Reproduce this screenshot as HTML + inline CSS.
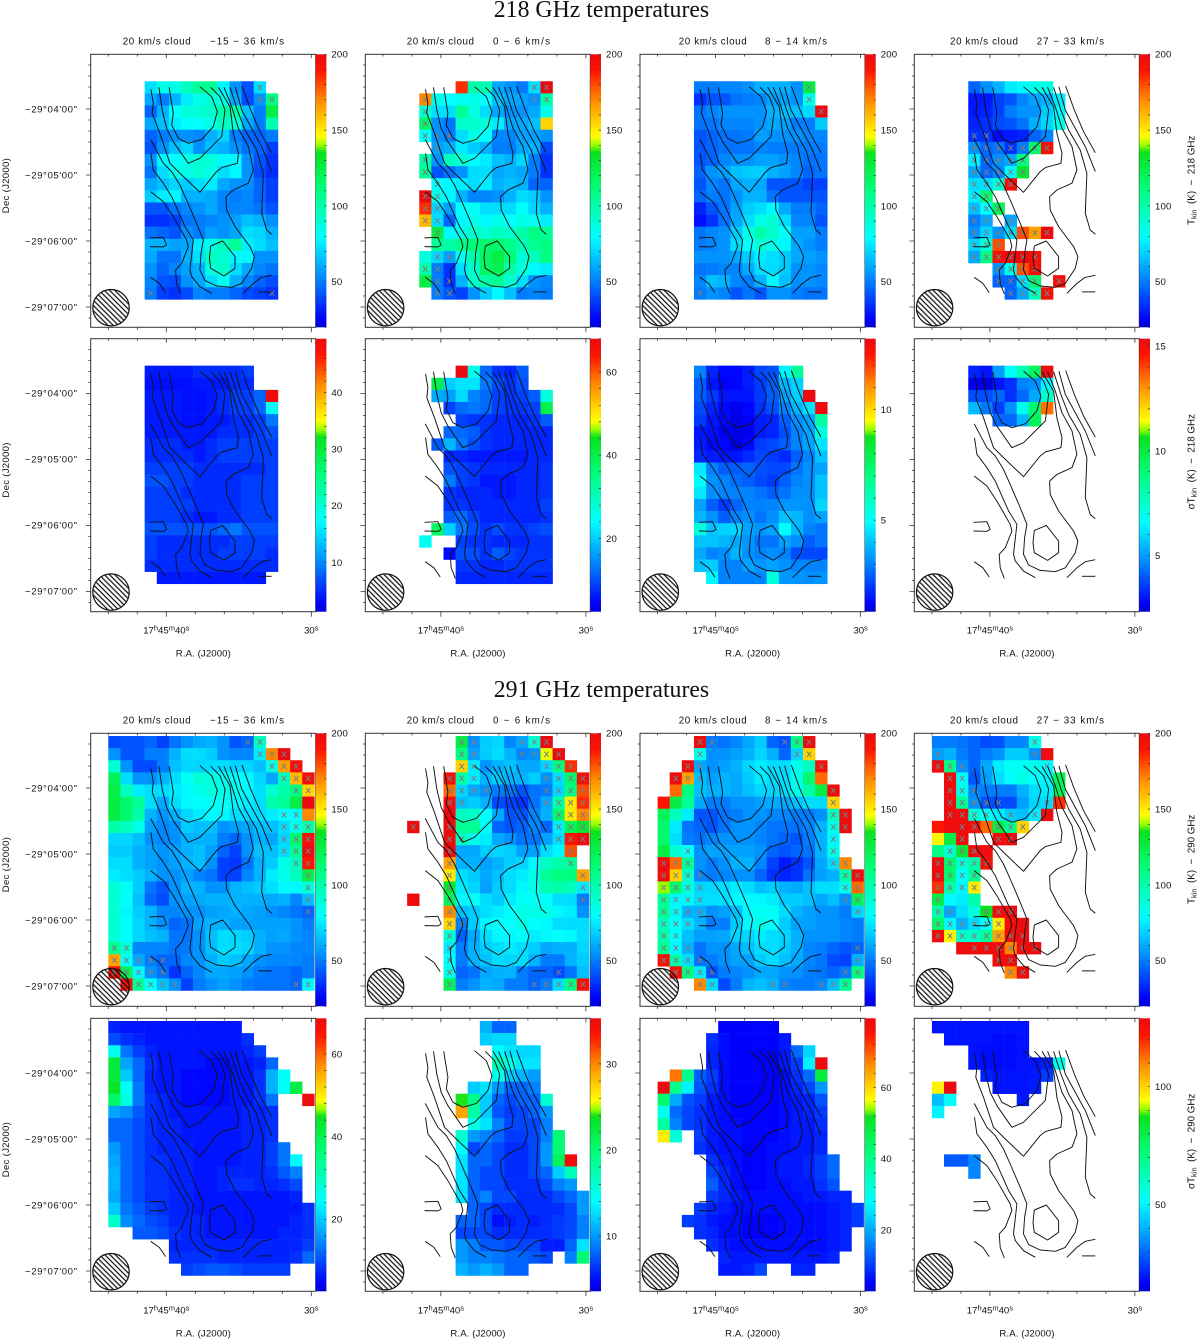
<!DOCTYPE html>
<html><head><meta charset="utf-8"><title>20 km/s cloud kinetic temperature maps</title>
<style>
html,body{margin:0;padding:0;background:#fff}
svg{display:block}
text{font-family:"Liberation Sans",sans-serif;fill:#111}
</style></head>
<body>
<svg id="figure" xmlns="http://www.w3.org/2000/svg" width="1200" height="1339" viewBox="0 0 1200 1339">
<defs>
<linearGradient id="rainbow" x1="0" y1="1" x2="0" y2="0"></linearGradient>
<pattern id="hatch" patternUnits="userSpaceOnUse" width="3.7" height="3.7" patternTransform="rotate(45)"><line x1="0" y1="1.85" x2="3.7" y2="1.85" stroke="#111" stroke-width="1.25"/></pattern>
</defs>
<text x="601.5" y="17" text-anchor="middle" style="font-family:'Liberation Serif',serif;font-size:23.8px">218 GHz temperatures</text>
<text x="601.5" y="697" text-anchor="middle" style="font-family:'Liberation Serif',serif;font-size:23.8px">291 GHz temperatures</text>
</svg>
<script>
const tA=[[72,85,85,95,105,105,78,55,42,72],[60,50,62,75,85,90,85,60,40,55,110],[45,62,80,88,90,92,100,100,65,50,125],[60,65,75,80,80,85,95,90,60,50,98],[45,50,55,55,52,62,70,50,45,45,50],[42,55,65,70,55,65,62,55,48,45,38],[55,78,80,85,90,88,78,78,55,42,35],[48,72,85,85,90,85,72,78,55,40,34],[60,65,70,68,72,75,60,55,55,45,38],[68,75,78,62,62,60,52,50,52,45,38],[42,42,48,52,55,60,52,52,52,48,42],[35,35,38,48,50,52,55,58,65,62,55],[48,45,42,55,50,58,55,60,72,70,62],[62,62,58,60,75,85,95,105,75,72,65],[60,48,48,62,72,95,90,78,78,55,55],[55,45,52,58,62,88,92,72,60,52,48],[52,42,40,55,60,72,82,62,52,45,40],[50,38,35,40,52,50,50,45,40,38,35]];
const fA={0:[9],1:[9,10],17:[0,10]};
const tB=[[,,,185,100,98,60,55,50,72,200],[170,85,80,82,85,80,65,60,58,55,100],[90,72,72,105,88,72,60,55,55,60,85],[115,55,48,92,92,88,75,60,60,65,155],[80,55,50,72,85,80,52,52,58,58,55],[,58,62,75,68,62,50,50,60,62,40],[100,55,95,90,80,75,65,62,70,50,35],[105,42,48,55,72,72,60,62,60,50,35],[,80,78,75,72,75,62,65,62,45,45],[200,85,78,62,52,52,55,62,72,68,55],[185,70,58,80,82,72,72,72,80,70,62],[160,72,45,78,85,78,85,80,85,82,75],[,125,78,85,92,90,95,92,100,110,105],[,105,100,108,112,115,115,108,98,105,110],[88,70,58,82,100,118,125,112,90,95,110],[100,50,35,72,92,118,122,100,88,78,75],[125,50,35,62,92,100,105,92,72,55,52],[,50,42,38,55,68,78,65,50,52,50]];
const fB={0:[9,10],1:[0,9,10],2:[0],3:[0],4:[0,1,2],5:[1],6:[0],7:[0],8:[1],9:[0,1],10:[0,1],11:[0,1],12:[1],14:[1,2],15:[0,1],16:[1,2],17:[1,2]};
const tC=[[50,50,52,52,55,62,62,62,55,125],[35,42,42,48,50,52,58,58,55,85],[48,52,55,55,55,55,62,65,65,72,200],[48,48,52,52,52,55,60,58,50,50,68],[42,45,48,48,50,58,55,55,55,52,52],[42,45,48,48,48,52,50,50,50,50,50],[42,45,52,55,55,58,58,55,52,48,48],[45,55,58,65,68,68,62,58,52,45,48],[42,52,48,60,62,60,42,42,42,38,38],[45,50,48,55,62,62,48,42,42,42,42],[32,42,48,58,68,72,78,60,50,50,45],[28,35,48,60,72,85,90,72,52,52,42],[48,52,55,68,85,100,92,80,58,58,50],[50,52,55,72,80,90,85,78,60,55,50],[55,55,55,60,68,75,72,68,60,58,55],[48,50,52,52,60,72,72,68,55,55,52],[52,65,62,52,50,62,78,65,55,55,52],[50,55,52,42,48,42,55,55,50,48,48]];
const fC={0:[9],1:[9],2:[10],17:[0]};
const tD=[[45,55,62,75,78,85,85],[30,30,38,42,52,58,62,75],[30,32,38,50,55,55,68,78],[32,35,40,42,48,62,70,85],[35,35,28,30,32,45,52],[55,45,48,35,50,115,195],[75,45,55,60,110],[60,45,52,78,130],[72,72,90,195],[75,115],[65,80,120],[50,60,,60],[55,70,55,72,180,165,200],[70,90,180],[60,110,195,200,200,195],[,,55,85,180,195],[,,45,45,72,115,,195],[,,,45,60,95,195]];
const fD={4:[0,1],5:[0,1,2,3,4,5,6],6:[0,1,2,3,4],7:[0,1,2,3,4],8:[0,1,2,3],9:[0,1],10:[0,1,2],11:[0,1,3],12:[0,1,2,3,4,5,6],13:[0,1,2],14:[0,1,2,3,4,5],15:[2,3,4,5],16:[2,3,4,5,7],17:[3,4,5,6]};
const sE=[[4,4,4,4,5,5,5,5,6],[3.5,3.5,3.5,3.5,4,4,4,5,5],[4,4,4,3.5,3.5,4,5,6,6,8,49],[4,4,4,3.5,3.5,4,5,6,6,8,18],[4,4,4,3.5,3.5,4,4,5,5,6,9],[4,4,4,4,4,4,5,5,5,6,7],[5,5,5,4,4,5,6,6,6,6,6],[5,5,5,5,4,5,6,6,6,6,6],[6,6,6,6,5,5,5,5,5,5,6],[7,7,6,6,5,5,5,5,6,6,6],[6,6,6,5,5,5,5,5,6,6,6],[6,6,6,6,5,5,5,5,6,6,6],[6,6,6,5,4,4,5,5,6,6,6],[7,7,7,7,7,7,8,9,7,7,7],[6,5,5,5,5,5,5,6,6,6,6],[6,5,5,5,5,5,6,6,6,6,5],[5,5,5,5,5,5,5,5,5,5,5],[,4,4,4,4,4,4,4,4,4]];
const sF=[[,,,68,26,12,8,7,11],[,40,20,22,22,13,10,8,10],[,17,16,21,14,12,9,8,9,11,27],[,,9,12,13,12,9,8,8,9,40],[,,,9,8,8,7,7,7,8,11],[,,12,12,11,8,7,7,7,7,7],[,11,18,13,10,8,7,7,7,7,7],[,,7,7,6,6,6,6,6,7,7],[,,10,9,8,7,7,7,7,7,8],[,,13,9,8,6,6,6,7,7,8],[,,8,7,7,7,6,6,7,7,8],[,,8,8,7,7,7,7,7,7,9],[,,11,12,9,7,7,7,7,7,8],[,38,20,13,10,8,10,8,8,9,10],[25,,,9,8,8,7,7,7,8,8],[,,5,10,10,8,11,9,8,8,8],[,,,8,8,7,7,8,8,8,8],[,,,7,7,7,7,7,7,7,7]];
const sG=[[3,1.7,1.3,1.3,1.6,2.2,2.3,4.8,6.6],[2.5,1.5,1.2,1.3,1.6,2,2.5,3.8,4.2],[2.5,2,1.5,1.5,1.5,2,2.5,3.5,4.2,13.2],[2.2,1.7,1.3,1.1,1.3,1.9,2.3,3,3.8,4.5,13.2],[2,1.5,1.3,1,1.2,1.6,1.7,2.5,3.2,3.5,6.5],[1.5,1.4,1.1,1,1.1,1.6,1.7,2.3,3,3.5,5.5],[1.6,1.3,1.3,1,1.3,2,2.2,2.5,3,3.5,4.5],[1.8,1.6,1.5,1.5,1.8,2.2,2,1.8,2.5,3,4],[4.6,3,2.5,2.5,2.6,2.3,2.2,2.2,2.8,3.2,3.5],[5,3.2,3,2.7,2.5,2.2,2,2.5,3,3.2,4],[4.6,3.2,3,3,3,2.8,2.5,2.8,3.2,3.2,4],[3.5,2.5,2,2.6,3,3,3,3.3,3.3,3.2,4.3],[3.8,3.2,2.5,3,3.2,2.8,3.2,4,3.8,3.2,3.5],[5.5,4,4.2,4.3,3.5,3.3,3.5,5,3.8,3,2.8],[4,4,3.8,3.6,3.3,2.8,2.8,3.5,3.2,2.5,2.8],[3.6,3,3.2,3.8,3.2,3,3.2,3,2.3,2.2,2.2],[4,4.2,3,3,3.5,3.3,3.5,3.2,3,3,3],[,4.8,3,3,3,3,5.5,3.3,3.3,3.2,3.3]];
const sH=[[3.2,3,5,6.8,8,9.5,15.3],[2.6,2.4,3,3.4,4.6,4.8,6.5],[3.8,3.8,4.2,3.4,4.2,5.2,7.5],[5.5,4.5,3.6,4.8,7,9.2,13.5],[,,4.2,4.2,5.5,9.5]];
const tI=[[40,42,42,45,38,48,55,60,62,55,42,45,95],[55,42,42,50,50,62,72,72,68,55,52,52,75,170,200],[90,55,40,40,50,65,70,70,72,72,70,70,65,85,165,195],[120,72,55,55,62,72,82,90,88,82,80,78,70,60,95,160,195],[125,95,75,72,72,75,78,85,88,85,82,78,72,90,100,110,155],[125,115,105,72,60,72,78,80,82,82,78,75,72,100,105,125,200],[125,115,100,62,55,62,70,75,78,78,72,72,72,75,80,80,170],[100,95,85,58,52,55,68,65,65,55,58,60,65,65,72,85,100],[70,70,65,55,52,55,62,62,62,50,45,55,62,60,70,115,195],[68,68,62,58,55,58,62,65,58,45,38,55,65,65,72,105,200],[72,72,62,58,55,58,62,65,55,38,36,48,62,68,85,95,190],[75,72,68,62,55,55,58,52,48,38,38,52,62,75,85,95,125],[90,82,68,48,42,55,62,62,55,55,62,65,68,72,78,78,88],[90,80,65,45,40,55,58,60,62,62,62,62,62,60,62,52,65],[90,78,68,62,52,52,55,55,58,60,62,60,58,55,52,48,45],[90,80,70,62,55,45,48,58,62,62,58,58,58,58,58,55,50],[90,80,70,65,62,48,48,55,65,72,70,68,62,58,60,55,52],[105,88,52,52,52,48,50,55,65,72,72,70,62,55,55,52,52],[165,80,60,50,45,45,52,55,62,68,65,60,55,52,52,52,50],[195,120,78,55,48,35,45,52,60,60,58,55,50,48,48,45,50],[,195,105,80,65,55,38,50,55,58,55,50,48,48,48,45,78]];
const fI={0:[11,12],1:[12,13,14],2:[13,14,15],3:[14,15,16],4:[15,16],6:[14,15],7:[14,15,16],8:[14,15,16],9:[14,15,16],10:[15,16],11:[16],12:[16],13:[16],14:[16],17:[0,1],18:[0,1,2,3,4],19:[0,1,2,3,4],20:[2,3,4,5,15,16]};
const tJ=[[,,,,,,125,55,68,70,52,60,90,200],[,,,,,,110,58,68,72,62,52,55,145,200],[,,,,,,155,75,55,62,65,60,60,70,110,185],[,,,,,195,100,75,62,68,62,62,68,55,72,115,195],[,,,,,175,70,60,55,50,48,42,48,50,70,110,180],[,,,,,195,65,68,62,40,38,35,48,60,100,150,185],[,,,,,200,95,92,80,60,42,42,52,62,115,150,170],[,,198,,,200,105,105,82,45,42,45,52,45,75,120,130],[,,,,,198,95,85,75,60,55,48,48,58,72,190,198],[,,,,,198,60,60,68,70,68,58,58,72,78,180],[,,,,,165,62,62,58,62,68,70,78,95,100,105],[,,,,,150,72,68,60,65,72,75,85,105,110,110,165],[,,,,,130,75,70,58,68,72,78,85,98,100,95,75],[,,198,,,120,78,80,72,68,75,82,82,80,72,72,50],[,,,,,170,65,68,72,75,80,85,85,85,78,75,55],[,,,,,155,50,68,78,80,80,85,80,78,72,72,72],[,,,,,90,45,60,72,78,78,80,75,78,80,78,72],[,,,,,75,50,62,68,72,75,72,68,60,62,62,70],[,,,,,80,50,62,65,72,70,72,62,50,50,62,68],[,,,,,85,45,48,60,62,62,50,45,45,40,48,65],[,,,,,120,50,55,62,60,50,50,45,50,72,110,195]];
const fJ={0:[6,7,11,12,13],1:[6,7,11,12,13,14],2:[6,7,13,14,15],3:[5,6,7,13,14,15,16],4:[5,6,7,8,13,14,15,16],5:[5,6,13,14,15,16],6:[14,15,16],7:[2,5,14,15,16],8:[5,6,14,15,16],9:[5,15],10:[5,15],11:[5,16],12:[5,16],13:[5,16],14:[5],15:[5,6],16:[5],17:[5],18:[5],19:[5,14],20:[5,12,13,14,15,16]};
const tK=[[,,,198,50,48,52,60,68,45,42,110,198],[,,,85,55,55,58,62,70,62,45,70,155],[,,198,60,55,58,62,70,75,72,72,85,95,195],[,198,165,65,58,62,60,68,75,72,72,85,115,175],[,175,110,65,62,62,60,65,70,70,72,85,100,125,198],[190,125,105,60,50,50,55,55,58,60,60,65,72,72,155],[120,95,75,42,42,48,50,55,55,52,52,50,50,55,95,198],[115,75,48,45,42,48,55,55,52,48,48,48,52,62,85,198],[115,72,50,48,52,55,55,55,52,48,45,42,50,62,78],[125,90,80,55,58,58,58,58,55,45,42,45,48,62,85],[198,175,105,55,50,55,62,62,52,38,30,35,42,60,72,170],[198,155,90,52,50,52,55,55,45,35,32,35,48,58,62,100,198],[140,115,88,70,70,72,75,72,65,68,62,60,65,72,72,85,175],[105,78,78,72,72,72,78,78,78,75,68,68,65,60,65,55,120],[105,78,62,62,55,58,65,78,82,82,72,62,58,55,55,50,70],[95,80,72,62,50,50,68,78,85,80,68,58,58,55,55,52,50],[100,80,65,58,58,60,70,70,75,72,70,62,55,55,55,52,50],[105,78,62,48,55,55,60,65,72,72,68,62,52,50,45,42,45],[195,100,72,48,50,55,58,58,68,72,65,60,52,48,40,38,62],[,195,110,75,42,50,52,55,60,60,55,55,50,48,45,50,110],[,,,170,72,40,50,62,65,62,52,50,50,52,65,105]];
const fK={0:[3,4,10,11,12],1:[3,11,12],2:[2,3,13],3:[1,2,3],4:[14],5:[14],6:[14,15],7:[14,15],8:[14],9:[2,14],10:[0,1,2,14,15],11:[0,1,2,3,15,16],12:[0,1,2,3,15,16],13:[0,1,2,3,15,16],14:[0,1,2,3,16],15:[0,1,2],16:[0,1],17:[0,1,2,16],18:[0,1,2,3,16],19:[1,2,3,4,15,16],20:[3,4,9,10,13,14,15]};
const tL=[[50,50,48,45,40,42,52,52,85],[58,62,50,45,50,55,68,68,55,198],[198,110,55,45,60,75,82,82,85,78],[,198,80,42,58,72,80,85,80,78,120],[,198,85,52,50,50,50,62,72,75,120],[,198,105,55,42,40,40,58,70,72,185],[,198,198,90,80,75,68,65,75,198],[190,198,198,195,175,125,105,155],[148,125,198,,,198,198],[108,90,130,198,198],[198,115,90,100,195],[198,115,80,105],[185,100,78,150],[125,78,75,100],[100,60,72,88,135,198,198],[115,78,62,72,80,150,195,198],[198,148,92,92,105,165,198,198],[,,198,198,198,198,170,198,198],[,,,,,198,198],[,,,,,,170,198]];
const fL={0:[8],1:[0,8],2:[0,1,2,9],3:[1,2],4:[1,2,3],5:[1,2,3,4,5,9],6:[1,2,3,4,6,8],7:[2,3,5,6,7],8:[2,5,6],9:[1,2,3],10:[0,1,2,3,4],11:[0,1,2,3],12:[0,1,2,3],13:[0],14:[0,1,4,5,6],15:[0,1,2,3,4,5],16:[0,1,2,3,4,5,6,7],17:[3,4,5,6,7,8],18:[5,6],19:[6,7]};
const sM=[[7,6,6,6,6,6,6,6,6,6,6],[10,8,7,6,6,6,6,6,6,6,6,8],[26,13,9,7,6,6,6,6,6,6,6,7,9],[42,17,12,8,6,6,6,6,5,5,6,6,7,12],[42,20,12,7,6,6,5,5,5,5,6,6,8,18,25],[44,25,13,7,6,6,5,5,5,5,6,6,8,18,25,41],[38,27,13,8,7,6,5,5,5,5,6,6,8,13,,,68],[17,15,11,8,7,6,6,6,6,6,6,7,7,8],[12,12,10,8,7,7,6,6,6,6,6,7,7,8],[12,12,10,8,7,7,6,6,6,6,6,7,7,8],[16,12,10,8,7,7,7,6,6,6,6,7,7,9,13],[17,12,10,8,8,7,7,6,6,6,6,7,7,9,13,24],[18,12,10,8,8,7,7,6,6,7,7,7,7,8,11,14],[18,12,10,8,8,7,7,6,6,7,8,8,7,7,8,10],[17,12,10,8,8,7,7,6,6,6,6,6,6,6,6,7],[20,13,11,9,8,7,7,6,6,6,6,6,6,6,6,6,8],[29,15,12,10,9,7,7,7,6,6,6,6,6,6,6,7,8],[,,11,11,10,8,7,7,6,6,6,6,6,6,7,7,8],[,,,,,7,7,7,7,7,7,7,7,7,7,7,9],[,,,,,8,8,8,8,7,7,7,7,7,7,8,12],[,,,,,,9,10,11,11,10,9,9,9,9]];
const sN=[[,,,,,,,,11,8,8],[,,,,,,,,12,12.5,12.5],[,,,,,,,,,14,13,12.5,12.5],[,,,,,,,,,17,15,13,13],[,,,,,,,,,15,12,11,10],[,,,,,,,12,13,10,8,8,9],[,,,,,,24,19,12,8,7,8,8,16],[,,,,,,29,18,12,7.5,6.5,7,8,10],[,,,,,,,15,13,9,7,7,7,9],[,,,,,,16,10,9,8,6.5,6.5,7,9,20],[,,,,,,14,7,8,7,6,6,7,10,20],[,,,,,,13,8,8,7,6,6,7,10,21,35],[,,,,,,13,8,7,7,6,6,7,8,12,17],[,,,,,,13,8,7,7,6,6,6,7,9,10],[,,,,,,13,8,9,7,7,6,6,6,7,8,10],[,,,,,,,8,7,6,6,6,6,6,6,7,10],[,,,,,,8,8,7,5,5.5,6,5.5,6,6.5,7,9],[,,,,,,7,7,7,6,6,6,6,6,6.5,7,9],[,,,,,,10,9,7.5,7.5,7,7,7,5.5,5.5,8,13],[,,,,,,10,9,9,8.5,8,8,7.5,7,,9,20],[,,,,,,11,10,11,10,8,8]];
const sO=[[,,,,,5,5,5,5,5],[,,,,9,6,5,5,5,5,7],[,,,,8,6,5,5,5,5,7,14,24],[,,,,8,6,5,5,5,5,7,10,27,79],[,68,40,13,10,6,5,5,5,5,6,9,14,48],[79,40,27,12,9,6,5,5,5,5,6,8,11,18],[43,20,12,10,7,6,5,5,5,5,6,7,8,12],[30,14,11,9,7,6,5,5,5,5,6,7,8,10],[38,16,11,9,7,6,6,5,5,5,6,7,7,9],[58,32,,10,7,6,6,5,5,5,6,7,7,8],[,,,9,7,6,6,5,5,6,6,7,7,8],[,,,,9,7,6,5,5,6,7,7,8,10,14],[,,,,11,8,6,5,5,6,7,7,8,10,14],[,,,,13,8,6,5,5,6,6,7,7,9,12],[,,,,10,8,7,6,6,6,6,6,7,7,8,8],[,,,10,8,7,6,6,6,6,6,6,6,6,7,8,10],[,,10,9,7,6,6,5,5,5,6,6,6,6,7,8,10],[,,,9,8,6,6,5,5,5,6,6,6,6,7,8],[,,,,9,7,6,6,6,6,6,6,6,6,7,8],[,,,,,8,7,7,7,7,7,7,7,7,8],[,,,,,7,7,8,11,,,8,8]];
const sP=[[19,19,19,19,19,19,19,19],[,19,19,19,19,18,18,19],[,,,19,18,18,18,19],[,,,19,18,18,18,19,19,21,55],[,,,,21,19,19,19,20,24],[96,129,,,,19,19,19,20],[42,52,,,,,,20],[50],[],[],[],[,28,28,34],[,,,34]];

const tempTicks=[200,150,100,50];
const tickE=[40,30,20,10];
const tickF=[60,40,20];
const tickG=[10,5];
const tickH=[15,10,5];
const tickM=[60,40,20];
const tickN=[30,20,10];
const tickO=[60,40,20];
const tickP=[100,50];
const rangesRA=["−15 − 36 km/s","0 − 6 km/s","8 − 14 km/s","27 − 33 km/s"];
const decTickValues=[240,300,360,420];
const decTickLabels=["−29°04'00\"","−29°05'00\"","−29°06'00\"","−29°07'00\""];

const contourLines=[
[[34.78,219.1],[34.18,240.9],[33.54,260.6],[32.73,279.7]],
[[35.24,219.7],[34.80,240.9],[34.11,257.6],[33.42,274.2],[32.73,296.9]],
[[35.61,220.3],[35.10,240.9],[34.57,259.1],[33.77,277.3],[33.31,298.5],[33.42,334.8],[33.08,350],[32.73,353.9]],
[[36.02,220.3],[35.49,237.9],[35.03,257.6],[34.34,274.2],[34.00,295.4],[34.34,307.5],[35.38,313.6],[35.88,319.7],[35.84,331.8],[35.26,346.9],[34.23,365.1],[33.93,374.2],[34.11,384.8],[34.80,398.5],[35.49,402.1],[36.53,400.9],[37.33,396],[37.68,386.3],[37.61,371.2],[37.45,359],[37.91,343.9],[38.60,322.7],[39.06,309.1],[39.63,296.9],[40.21,289.4],[41.08,267.6]],
[[36.41,220.3],[35.61,237.9],[35.38,262.1],[35.03,280.3],[35.10,289.4],[36.18,293.3],[36.53,296.9],[37.68,315.7],[38.94,300],[39.75,289.4],[40.44,262.1],[40.97,243.9],[40.90,234.8],[41.06,222.1]],
[[36.94,220.3],[36.30,228.8],[35.95,240.9],[36.18,265.1],[37.68,284.8],[38.48,289.4],[39.52,269.7],[39.98,257.6],[40.28,240.9],[40.51,220.3]],
[[37.68,219.7],[36.87,228.8],[36.48,242.4],[36.76,256],[37.56,267.6],[38.48,271.2],[39.17,266.6],[39.63,254.5],[39.52,243.9],[39.81,220.3]],
[[41.06,280.3],[40.90,295.4],[40.21,307.5],[39.63,319.7],[38.71,346.9],[38.14,359],[38.37,386.3],[38.25,392.4],[37.68,401.5],[36.87,407.5]],
[[41.08,315.1],[40.21,324.2],[39.52,337.9],[38.60,359],[38.48,365.1],[38.94,380.3],[39.36,386.3],[39.29,398.5],[39.01,408.2]],
[[41.13,357.2],[40.21,356.6],[39.98,363.6],[40.21,365.4],[41.13,365.1]],
[[41.08,393],[40.48,398.5],[40.05,406.9]],
[[34.69,407.5],[34.00,398.5],[33.42,393],[32.73,391.2]],
[[33.65,406.3],[32.73,406.3]],
[[36.94,364.5],[36.11,360],[35.26,374.2],[35.26,384.8],[36.02,391.8],[36.94,384.8],[37.03,375.7],[36.94,364.5]]
];

const colLeft=[90.7,365.3,640,914.3];
const rowTop=[54.3,338.7,733.3,1018.3];
const titleLeft=[[122.7,190.7,210,284],[406.7,474,493,550],[678.7,746.7,765,827],[950,1018,1036.7,1104]];
const FW=225,FH=273,CBW=10.7,CELL=12.12,GX=17.6,GY=2.7;

const panels=[
{row:0,col:0,name:'t218-full',vals:tA,flags:fA,r0:2,c0:3,vmin:20,vmax:200,ticks:tempTicks,minor:10},
{row:0,col:1,name:'t218-0-6',vals:tB,flags:fB,r0:2,c0:3,vmin:20,vmax:200,ticks:tempTicks,minor:10},
{row:0,col:2,name:'t218-8-14',vals:tC,flags:fC,r0:2,c0:3,vmin:20,vmax:200,ticks:tempTicks,minor:10},
{row:0,col:3,name:'t218-27-33',vals:tD,flags:fD,r0:2,c0:3,vmin:20,vmax:200,ticks:tempTicks,minor:10},
{row:1,col:0,name:'sigma218-full',vals:sE,flags:{},r0:2,c0:3,vmin:1.3,vmax:49.5,ticks:tickE,minor:2},
{row:1,col:1,name:'sigma218-0-6',vals:sF,flags:{},r0:2,c0:3,vmin:2.4,vmax:68,ticks:tickF,minor:4},
{row:1,col:2,name:'sigma218-8-14',vals:sG,flags:{},r0:2,c0:3,vmin:0.86,vmax:13.2,ticks:tickG,minor:1},
{row:1,col:3,name:'sigma218-27-33',vals:sH,flags:{},r0:2,c0:3,vmin:2.33,vmax:15.35,ticks:tickH,minor:1},
{row:2,col:0,name:'t290-full',vals:tI,flags:fI,r0:0,c0:0,vmin:20,vmax:200,ticks:tempTicks,minor:10},
{row:2,col:1,name:'t290-0-6',vals:tJ,flags:fJ,r0:0,c0:0,vmin:20,vmax:200,ticks:tempTicks,minor:10},
{row:2,col:2,name:'t290-8-14',vals:tK,flags:fK,r0:0,c0:0,vmin:20,vmax:200,ticks:tempTicks,minor:10},
{row:2,col:3,name:'t290-27-33',vals:tL,flags:fL,r0:0,c0:0,vmin:20,vmax:200,ticks:tempTicks,minor:10},
{row:3,col:0,name:'sigma290-full',vals:sM,flags:{},r0:0,c0:0,vmin:2.6,vmax:68.6,ticks:tickM,minor:4},
{row:3,col:1,name:'sigma290-0-6',vals:sN,flags:{},r0:0,c0:0,vmin:3.57,vmax:35.3,ticks:tickN,minor:2},
{row:3,col:2,name:'sigma290-8-14',vals:sO,flags:{},r0:0,c0:0,vmin:2.8,vmax:79.4,ticks:tickO,minor:4},
{row:3,col:3,name:'sigma290-27-33',vals:sP,flags:{},r0:0,c0:0,vmin:13.3,vmax:129,ticks:tickP,minor:10}
];

const cmap=[[0,0,0,210],[.03,0,0,255],[.17,0,128,255],[.33,0,255,255],[.5,0,255,128],[.64,10,225,30],[.667,150,255,0],[.70,255,255,0],[.83,255,140,0],[.94,255,20,0],[1,235,10,15]];
function colorOf(t){
  t=Math.max(0,Math.min(1,t));
  for(let i=1;i<cmap.length;i++){
    if(t<=cmap[i][0]){
      const a=cmap[i-1],b=cmap[i],f=(t-a[0])/(b[0]-a[0]);
      return 'rgb('+[1,2,3].map(k=>Math.round(a[k]+(b[k]-a[k])*f)).join(',')+')';
    }
  }
  return 'rgb(235,10,15)';
}
const NS='http://www.w3.org/2000/svg';
const svg=document.getElementById('figure');
function el(tag,parent,geo){
  const e=document.createElementNS(NS,tag);
  for(const k in geo)e.setAttribute(k,geo[k]);
  parent.appendChild(e);
  return e;
}
const grad=document.getElementById('rainbow');
cmap.forEach(s=>{
  el('stop',grad,{offset:s[0],'stop-color':'rgb('+s[1]+','+s[2]+','+s[3]+')'});
});
function raX(ra){return 75.6+(40-ra)*14.5;}
function decY(d){return 54.7+(d-240)*1.1;}
function colX(c){return GX+c*CELL;}
function rowY(r){return GY+r*CELL;}

panels.forEach(p=>{
  const L=colLeft[p.col],T=rowTop[p.row];
  const g=el('g',svg,{transform:'translate('+L+','+T+')'});
  
  
  const scale=v=>(v-p.vmin)/(p.vmax-p.vmin);
  const cellsG=el('g',g,{});
  
  
  p.vals.forEach((rowVals,ri)=>{
    for(let ci=0;ci<rowVals.length;ci++){
      const v=rowVals[ci];
      if(v===undefined)continue;
      const x=colX(ci+p.c0),y=rowY(ri+p.r0);
      const c=el('rect',cellsG,{x:x.toFixed(2),y:y.toFixed(2),width:CELL+0.25,height:CELL+0.25,fill:colorOf(scale(v))});
      
      
    }
  });
  Object.keys(p.flags).forEach(rk=>{
    p.flags[rk].forEach(ci=>{
      const cx=colX(ci+p.c0)+CELL/2,cy=rowY(+rk+p.r0)+CELL/2;
      const m=el('path',g,{d:'M'+(cx-2.2)+' '+(cy-2.6)+'L'+(cx+2.2)+' '+(cy+2.6)+'M'+(cx+2.2)+' '+(cy-2.6)+'L'+(cx-2.2)+' '+(cy+2.6),stroke:'#7d7d7d','stroke-width':1,fill:'none'});
      
      
    });
  });
  contourLines.forEach(line=>{
    const pts=line.map(q=>raX(q[0]).toFixed(1)+','+decY(q[1]).toFixed(1)).join(' ');
    const c=el('polyline',g,{points:pts,fill:'none',stroke:'#111','stroke-width':0.95,'stroke-linejoin':'round'});
    
    
  });
  const beam=el('circle',g,{cx:20.3,cy:253.4,r:18.2,fill:'url(#hatch)',stroke:'#111','stroke-width':1.2});
  
  
  const frame=el('rect',g,{x:0,y:0,width:FW,height:FH,fill:'none',stroke:'#333','stroke-width':1});
  
  
  let tk='';
  for(let ra=44;ra>=30;ra-=2){
    const x=raX(ra),major=(ra===40||ra===30);
    tk+='M'+x+' 0V'+(major?4:2.2)+'M'+x+' '+FH+'V'+(FH+(major?5:2.6));
  }
  for(let d=190;d<=480;d+=10){
    const y=decY(d);
    if(y<2||y>FH-2)continue;
    tk+='M0 '+y+'H'+(decTickValues.includes(d)?-4.8:-2.4);
  }
  const ticks=el('path',g,{d:tk,stroke:'#333','stroke-width':0.8,fill:'none'});
  
  
  const cb=el('rect',g,{x:FW,y:0,width:CBW,height:FH,fill:'url(#rainbow)'});
  
  
  const cbY=v=>FH-scale(v)*FH;
  let ct='';
  for(let v=Math.ceil(p.vmin/p.minor)*p.minor;v<=p.vmax;v+=p.minor){
    ct+='M'+(FW+CBW)+' '+cbY(v).toFixed(1)+'h-2.2';
  }
  const cbt=el('path',g,{d:ct,stroke:'#333','stroke-width':0.7,fill:'none'});
  
  
  p.ticks.forEach(v=>{
    const t=el('text',g,{x:FW+CBW+5,y:(cbY(v)+3.4).toFixed(1),'font-size':9.6,'letter-spacing':0.2});
    t.textContent=v;
    
    
  });
  if(p.row===0||p.row===2){
    const tl=titleLeft[p.col];
    const a=el('text',svg,{x:tl[0],y:T-10,'font-size':9.8,textLength:tl[1]-tl[0],lengthAdjust:'spacing'});
    a.textContent='20 km/s cloud';
    
    
    const b=el('text',svg,{x:tl[2],y:T-10,'font-size':9.8,textLength:tl[3]-tl[2],lengthAdjust:'spacing'});
    b.textContent=rangesRA[p.col];
    
    
  }
  if(p.col===0){
    decTickValues.forEach((d,i)=>{
      const t=el('text',g,{x:-13.7,y:(decY(d)+3.3).toFixed(1),'text-anchor':'end','font-size':9.6,textLength:52,lengthAdjust:'spacing'});
      t.textContent=decTickLabels[i];
      
      
    });
    const dl=el('text',svg,{'text-anchor':'middle','font-size':9.6,textLength:55,lengthAdjust:'spacing',transform:'translate(9,'+(T+131.4)+') rotate(-90)'});
    dl.textContent='Dec (J2000)';
    
    
  }
  if(p.row===1||p.row===3){
    const t40=el('text',g,{x:raX(40),y:FH+22,'text-anchor':'middle','font-size':9.6});
    
    
    t40.innerHTML='17<tspan dy="-3" font-size="7.5">h</tspan><tspan dy="3">45</tspan><tspan dy="-3" font-size="7.5">m</tspan><tspan dy="3">40</tspan><tspan dy="-3" font-size="7.5">s</tspan>';
    const t30=el('text',g,{x:raX(30),y:FH+22,'text-anchor':'middle','font-size':9.6});
    
    
    t30.innerHTML='30<tspan dy="-3" font-size="7.5">s</tspan>';
    const ra=el('text',g,{x:112.6,y:FH+45,'text-anchor':'middle','font-size':9.6,textLength:55,lengthAdjust:'spacing'});
    ra.textContent='R.A. (J2000)';
    
    
  }
  if(p.col===3){
    const isSigma=p.row%2===1;
    const freq=p.row<2?'218':'290';
    const lab=el('text',svg,{'text-anchor':'middle','font-size':9.8,transform:'translate(1194.5,'+(T+(isSigma?123:126))+') rotate(-90)'});
    
    
    lab.innerHTML=(isSigma?'σ':'')+'T<tspan dy="2" font-size="7.5">kin</tspan><tspan dy="-2" xml:space="preserve">  (K)  −  '+freq+' GHz</tspan>';
  }
});
</script>
</body></html>
